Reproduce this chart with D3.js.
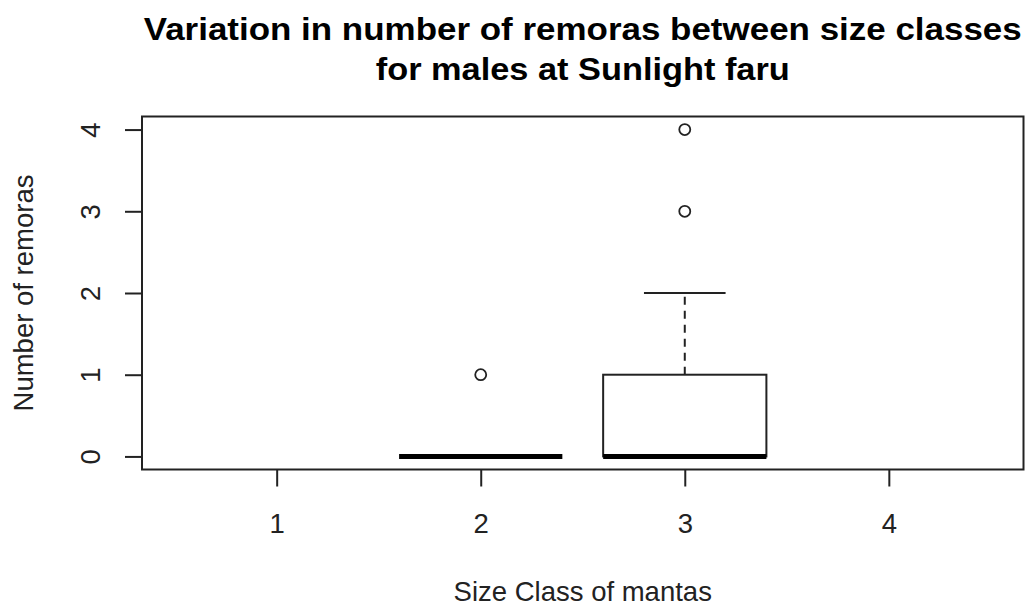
<!DOCTYPE html>
<html lang="en">
<head>
    <meta charset="UTF-8">
    <title>Remoras by size class</title>
    <script src="https://d3js.org/d3.v7.min.js"></script>
    <style>
        body {
            margin: 0;
            background: #fff;
            font-family: Arial, 'Liberation Sans', sans-serif;
        }
        .title {
            font-size: 32px;
            font-weight: bold;
            text-anchor: middle;
            fill: #000;
        }
        .axis-text {
            font-size: 27.5px;
            fill: #222;
            text-anchor: middle;
        }
        .frame {
            fill: none;
            stroke: #222;
            stroke-width: 2;
        }
        .tick-line {
            stroke: #222;
            stroke-width: 2;
        }
    </style>
</head>
<body>
    <svg width="1025" height="606"></svg>
    <script>
        // Data
        const groups = [1, 2, 3, 4];
        // five-number summaries per size class (null = no data)
        const whiskerLow = [null, 0, 0, null];
        const q1 = [null, 0, 0, null];
        const medians = [null, 0, 0, null];
        const q3 = [null, 0, 1, null];
        const whiskerHigh = [null, 0, 2, null];
        const outliers = [[], [1], [3, 4], []];
        const yTicks = [0, 1, 2, 3, 4];

        const titleLines = ["Variation in number of remoras between size classes", "for males at Sunlight faru"];
        const xLabel = "Size Class of mantas";
        const yLabel = "Number of remoras";

        const width = 1025;
        const height = 606;
        const plot = { left: 142, right: 1023.5, top: 116.5, bottom: 469.5 };

        const svg = d3.select("svg");

        const x = d3.scaleLinear()
            .domain([0.34, 4.66])
            .range([plot.left, plot.right]);

        const y = d3.scaleLinear()
            .domain([-0.16, 4.16])
            .range([plot.bottom, plot.top]);

        const unit = x(1) - x(0);

        // Title
        const titleWidths = [878, 414];
        titleLines.forEach((t, i) => {
            svg.append("text")
                .attr("class", "title")
                .attr("x", (plot.left + plot.right) / 2)
                .attr("y", 40 + i * 40)
                .attr("textLength", titleWidths[i])
                .attr("lengthAdjust", "spacingAndGlyphs")
                .text(t);
        });

        // Boxes
        const stats = groups.map((g, i) => ({
            g: g, lo: whiskerLow[i], q1: q1[i], med: medians[i], q3: q3[i], hi: whiskerHigh[i], out: outliers[i]
        }));

        const box = svg.append("g");
        stats.filter(d => d.med !== null).forEach(d => {
            const bx0 = x(d.g - 0.4), bx1 = x(d.g + 0.4);
            const cx0 = x(d.g - 0.2), cx1 = x(d.g + 0.2);
            // whiskers
            if (d.hi > d.q3) {
                box.append("line").attr("x1", x(d.g)).attr("x2", x(d.g))
                    .attr("y1", y(d.q3)).attr("y2", y(d.hi))
                    .attr("stroke", "#222").attr("stroke-width", 2)
                    .attr("stroke-dasharray", "8,6");
                box.append("line").attr("x1", cx0).attr("x2", cx1)
                    .attr("y1", y(d.hi)).attr("y2", y(d.hi))
                    .attr("stroke", "#222").attr("stroke-width", 2);
            }
            if (d.lo < d.q1) {
                box.append("line").attr("x1", x(d.g)).attr("x2", x(d.g))
                    .attr("y1", y(d.q1)).attr("y2", y(d.lo))
                    .attr("stroke", "#222").attr("stroke-width", 2)
                    .attr("stroke-dasharray", "8,6");
                box.append("line").attr("x1", cx0).attr("x2", cx1)
                    .attr("y1", y(d.lo)).attr("y2", y(d.lo))
                    .attr("stroke", "#222").attr("stroke-width", 2);
            }
            if (d.q3 > d.q1) {
                box.append("rect")
                    .attr("x", bx0).attr("y", y(d.q3))
                    .attr("width", bx1 - bx0).attr("height", y(d.q1) - y(d.q3))
                    .attr("fill", "#fff").attr("stroke", "#222").attr("stroke-width", 2);
            }
            // median
            box.append("line")
                .attr("x1", bx0).attr("x2", bx1)
                .attr("y1", y(d.med)).attr("y2", y(d.med))
                .attr("stroke", "#000").attr("stroke-width", 5);
            // outliers
            box.selectAll(null)
                .data(d.out)
                .enter().append("circle")
                .attr("cx", x(d.g))
                .attr("cy", v => y(v))
                .attr("r", 5.5)
                .attr("fill", "none")
                .attr("stroke", "#222")
                .attr("stroke-width", 1.8);
        });

        // Frame
        svg.append("rect")
            .attr("class", "frame")
            .attr("x", plot.left).attr("y", plot.top)
            .attr("width", plot.right - plot.left)
            .attr("height", plot.bottom - plot.top);

        // X axis
        const xAxis = svg.append("g")
            .attr("transform", `translate(0,${plot.bottom})`)
            .call(d3.axisBottom(x).tickValues(groups).tickSize(17).tickPadding(0).tickFormat(d3.format("d")));
        xAxis.select(".domain").remove();
        xAxis.selectAll(".tick line").attr("class", "tick-line").attr("stroke", null);
        xAxis.selectAll(".tick text")
            .attr("class", "axis-text")
            .attr("fill", null)
            .attr("font-size", null)
            .attr("font-family", null)
            .attr("y", 63.5)
            .attr("dy", null);
        xAxis.attr("font-size", null).attr("font-family", null);

        // Y axis
        const yAxis = svg.append("g")
            .attr("transform", `translate(${plot.left},0)`)
            .call(d3.axisLeft(y).tickValues(yTicks).tickSize(17).tickFormat(d3.format("d")));
        yAxis.select(".domain").remove();
        yAxis.selectAll(".tick line").attr("class", "tick-line").attr("stroke", null);
        yAxis.selectAll(".tick text")
            .attr("class", "axis-text")
            .attr("fill", null)
            .attr("x", null)
            .attr("dy", null)
            .attr("transform", "translate(-42,0) rotate(-90)")
            .attr("y", 0);
        yAxis.attr("font-size", null).attr("font-family", null);

        // Axis titles
        svg.append("text")
            .attr("class", "axis-text")
            .attr("x", (plot.left + plot.right) / 2)
            .attr("y", 601)
            .text(xLabel);

        svg.append("text")
            .attr("class", "axis-text")
            .attr("transform", `translate(33,${(plot.top + plot.bottom) / 2}) rotate(-90)`)
            .text(yLabel);
    </script>
</body>
</html>
